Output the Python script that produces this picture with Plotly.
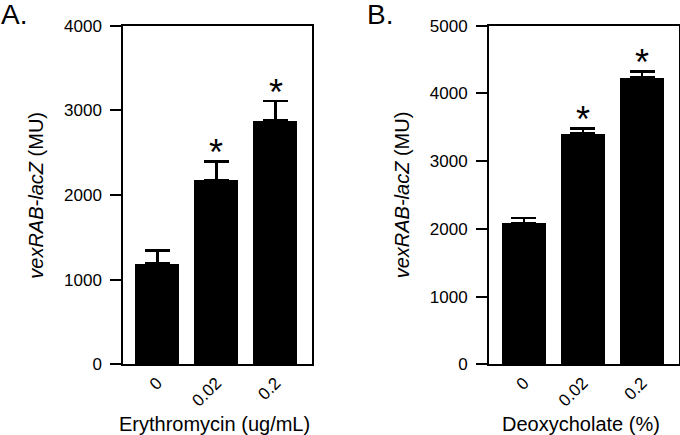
import plotly.graph_objects as go

categories = ["0", "0.02", "0.2"]
ery_values = [1193, 2177, 2878]
ery_err = [150, 220, 232]
ery_sig = ["", "*", "*"]
deo_values = [2090, 3405, 4236]
deo_err = [70, 80, 90]
deo_sig = ["", "*", "*"]
y_ticks_a = [0, 1000, 2000, 3000, 4000]
y_ticks_b = [0, 1000, 2000, 3000, 4000, 5000]

FONT = "Liberation Sans, Arial, sans-serif"

fig = go.Figure()

def add_bars(vals, errs, xa, ya):
    fig.add_trace(go.Bar(
        x=categories, y=vals, xaxis=xa, yaxis=ya,
        width=0.743, marker=dict(color="black", line=dict(width=0)),
        error_y=dict(type="data", array=errs, arrayminus=[0]*len(errs),
                     symmetric=False, color="black", thickness=2.5, width=12.5),
        showlegend=False, hoverinfo="x+y"))

add_bars(ery_values, ery_err, "x", "y")
add_bars(deo_values, deo_err, "x2", "y2")

ybot = (435 - 364.3) / 435
ytop = (435 - 25.7) / 435

xcommon = dict(type="category", showline=True, linecolor="black",
               linewidth=2, mirror=True, ticks="", tickangle=-45, automargin=False,
               tickfont=dict(family=FONT, size=17, color="black"), showgrid=False,
               zeroline=False)
ycommon = dict(showline=True, linecolor="black", linewidth=2, mirror=True, automargin=False,
               ticks="outside", ticklen=11, tickwidth=2, tickcolor="black",
               ticklabelstandoff=5,
               tickfont=dict(family=FONT, size=17, color="black"), showgrid=False,
               zeroline=False)

fig.update_layout(
    template="none",
    width=680, height=435,
    margin=dict(l=0, r=0, t=0, b=0, pad=0),
    paper_bgcolor="white", plot_bgcolor="white",
    bargap=0,
    xaxis=dict(domain=[123.3/680, 311.5/680], anchor="y", range=[-0.574, 2.605], **xcommon),
    yaxis=dict(domain=[ybot, ytop], anchor="x", range=[0, 4000], tickvals=y_ticks_a, **ycommon),
    xaxis2=dict(domain=[489/680, 679/680], anchor="y2", range=[-0.59, 2.625], **xcommon),
    yaxis2=dict(domain=[ybot, ytop], anchor="x2", range=[0, 5000], tickvals=y_ticks_b, **ycommon),
)

ann = []
for xa, ya, vals, errs, sig in [("x", "y", ery_values, ery_err, ery_sig),
                                ("x2", "y2", deo_values, deo_err, deo_sig)]:
    for i, (v, e, s) in enumerate(zip(vals, errs, sig)):
        if s:
            ann.append(dict(x=i, y=v + e, xref=xa, yref=ya, text=s, showarrow=False,
                            xanchor="center", yanchor="bottom", yshift=-14,
                            font=dict(family=FONT, size=36, color="black")))

ann += [
    dict(x=35.7/680, y=(435-195)/435, xref="paper", yref="paper", textangle=-90,
         xanchor="center", yanchor="middle",
         text="<i>vexRAB-lacZ</i> (MU)", showarrow=False,
         font=dict(family=FONT, size=20, color="black")),
    dict(x=402.3/680, y=(435-195)/435, xref="paper", yref="paper", textangle=-90,
         xanchor="center", yanchor="middle",
         text="<i>vexRAB-lacZ</i> (MU)", showarrow=False,
         font=dict(family=FONT, size=20, color="black")),
    dict(x=214/680, y=(435-424)/435, xref="paper", yref="paper",
         xanchor="center", yanchor="middle",
         text="Erythromycin (ug/mL)", showarrow=False,
         font=dict(family=FONT, size=20, color="black")),
    dict(x=581/680, y=(435-424)/435, xref="paper", yref="paper",
         xanchor="center", yanchor="middle",
         text="Deoxycholate (%)", showarrow=False,
         font=dict(family=FONT, size=20, color="black")),
    dict(x=0, y=1, xref="paper", yref="paper", xanchor="left", yanchor="top",
         text="A.", showarrow=False, yshift=3, xshift=-1,
         font=dict(family=FONT, size=28, color="black")),
    dict(x=366/680, y=1, xref="paper", yref="paper", xanchor="left", yanchor="top",
         text="B.", showarrow=False, yshift=3, xshift=-1,
         font=dict(family=FONT, size=28, color="black")),
]
fig.update_layout(annotations=ann)

fig.write_html("out.html", config={"displayModeBar": False},
               post_script="document.body.style.margin='0';document.body.style.overflow='hidden';")
